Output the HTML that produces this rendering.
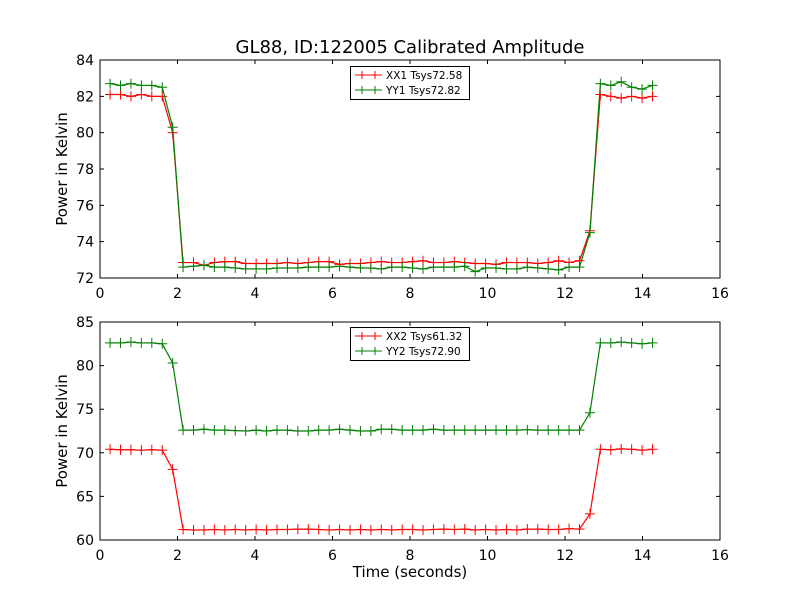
<!DOCTYPE html>
<html><head><meta charset="utf-8"><style>
body{margin:0;background:#fff}
svg{display:block;font-family:"DejaVu Sans","Liberation Sans",sans-serif}
</style></head><body>
<svg id="chart" width="800" height="600" xmlns="http://www.w3.org/2000/svg">
<rect width="800" height="600" fill="#fff"/>
<text x="410" y="53" font-size="18" text-anchor="middle">GL88, ID:122005 Calibrated Amplitude</text>
</svg>
<script>
const t0 = 0.26, dt = 0.2692, nPts = 54;
const xTicks = [0,2,4,6,8,10,12,14,16];
const yTicksTop = [72,74,76,78,80,82,84];
const yTicksBot = [60,65,70,75,80,85];
const seriesXX1 = [82.1,82.1,82.0,82.1,82.0,82.0,80.0,
72.85,72.85,72.7,72.85,72.9,72.9,72.8,72.8,72.8,72.8,72.85,72.8,72.85,72.9,72.9,72.75,72.8,72.8,72.85,72.9,72.85,72.85,72.9,72.95,72.85,72.85,72.9,72.85,72.8,72.8,72.75,72.85,72.85,72.85,72.8,72.85,72.95,72.85,72.95,
74.6,82.1,82.0,81.9,82.0,81.9,82.0];
const seriesYY1 = [82.7,82.6,82.7,82.6,82.6,82.5,80.3,
72.6,72.65,72.7,72.6,72.6,72.55,72.5,72.5,72.5,72.55,72.55,72.55,72.6,72.6,72.6,72.65,72.6,72.55,72.55,72.5,72.6,72.6,72.55,72.5,72.6,72.6,72.6,72.65,72.35,72.55,72.55,72.5,72.5,72.6,72.55,72.5,72.45,72.6,72.6,
74.5,82.7,82.6,82.8,82.5,82.4,82.6];
const seriesXX2 = [70.4,70.35,70.35,70.3,70.35,70.3,68.1,
61.2,61.15,61.15,61.2,61.15,61.2,61.15,61.2,61.15,61.2,61.2,61.25,61.25,61.2,61.15,61.2,61.15,61.2,61.15,61.2,61.15,61.2,61.2,61.15,61.2,61.25,61.2,61.25,61.15,61.2,61.15,61.2,61.15,61.25,61.25,61.2,61.2,61.3,61.25,
63.0,70.4,70.35,70.45,70.4,70.3,70.4];
const seriesYY2 = [82.6,82.6,82.7,82.6,82.6,82.5,80.3,
72.6,72.6,72.7,72.6,72.6,72.55,72.5,72.6,72.5,72.6,72.6,72.5,72.5,72.6,72.6,72.7,72.6,72.5,72.5,72.7,72.7,72.6,72.6,72.6,72.7,72.6,72.6,72.6,72.6,72.6,72.6,72.6,72.6,72.65,72.6,72.6,72.6,72.6,72.6,
74.6,82.6,82.6,82.7,82.6,82.5,82.6];
const legendTop = ["XX1 Tsys72.58","YY1 Tsys72.82"];
const legendBot = ["XX2 Tsys61.32","YY2 Tsys72.90"];

const NS="http://www.w3.org/2000/svg";
const svg=document.getElementById('chart');
function mk(tag,attrs,parent){const e=document.createElementNS(NS,tag);for(const k in attrs)e.setAttribute(k,attrs[k]);(parent||svg).appendChild(e);return e;}

function panel(top,bottom,ymin,ymax,yTicks,series,colors,names,legY,key){
  const L=100,R=720;
  const g=mk('g',{});
  
  
  const xs=v=>L+(v-0)/(16-0)*(R-L);
  const ys=v=>bottom-(v-ymin)/(ymax-ymin)*(bottom-top);
  series.forEach((s,si)=>{
    const pts=s.map((v,i)=>xs(t0+i*dt)+','+ys(v)).join(' ');
    const pl=mk('polyline',{points:pts,fill:'none',stroke:colors[si],'stroke-width':1.2},g);
    
    
    s.forEach((v,i)=>{
      const x=xs(t0+i*dt),y=ys(v);
      const m=mk('path',{d:`M${x-5},${y}H${x+5}M${x},${y-5}V${y+5}`,stroke:colors[si],'stroke-width':1},g);
      
      
    });
  });
  const fr=mk('rect',{x:L,y:top,width:R-L,height:bottom-top,fill:'none',stroke:'#000','stroke-width':1},g);
  
  
  xTicks.forEach(v=>{
    const x=xs(v);
    mk('path',{d:`M${x},${bottom}v-4M${x},${top}v4`,stroke:'#000'},g);
    const t=mk('text',{x:x,y:bottom+20,'font-size':14,'text-anchor':'middle'},g);
    t.textContent=v;
    
    
  });
  yTicks.forEach(v=>{
    const y=ys(v);
    mk('path',{d:`M${L},${y}h4M${R},${y}h-4`,stroke:'#000'},g);
    const t=mk('text',{x:L-6,y:y+5,'font-size':14,'text-anchor':'end'},g);
    t.textContent=v;
    
    
  });
  const yl=mk('text',{x:0,y:0,'font-size':15,'text-anchor':'middle',transform:`translate(67,${(top+bottom)/2}) rotate(-90)`},g);
  yl.textContent='Power in Kelvin';
  
  
  const lg=mk('g',{},g);
  
  
  mk('rect',{x:350.5,y:legY+0.5,width:119,height:33,fill:'#fff',stroke:'#000'},lg);
  names.forEach((n,i)=>{
    const y=legY+9+i*15;
    mk('path',{d:`M355,${y}h27M362,${y-4}v8M375,${y-4}v8`,stroke:colors[i]},lg);
    const t=mk('text',{x:386,y:y+4,'font-size':10.5},lg);
    t.textContent=n;
    
    
  });
}
panel(60,278,72,84,yTicksTop,[seriesXX1,seriesYY1],['#ff0000','#008000'],legendTop,66,'top');
panel(322,540,60,85,yTicksBot,[seriesXX2,seriesYY2],['#ff0000','#008000'],legendBot,327,'bottom');
const xl=mk('text',{x:410,y:577,'font-size':15,'text-anchor':'middle'});
xl.textContent='Time (seconds)';


</script>
</body></html>
